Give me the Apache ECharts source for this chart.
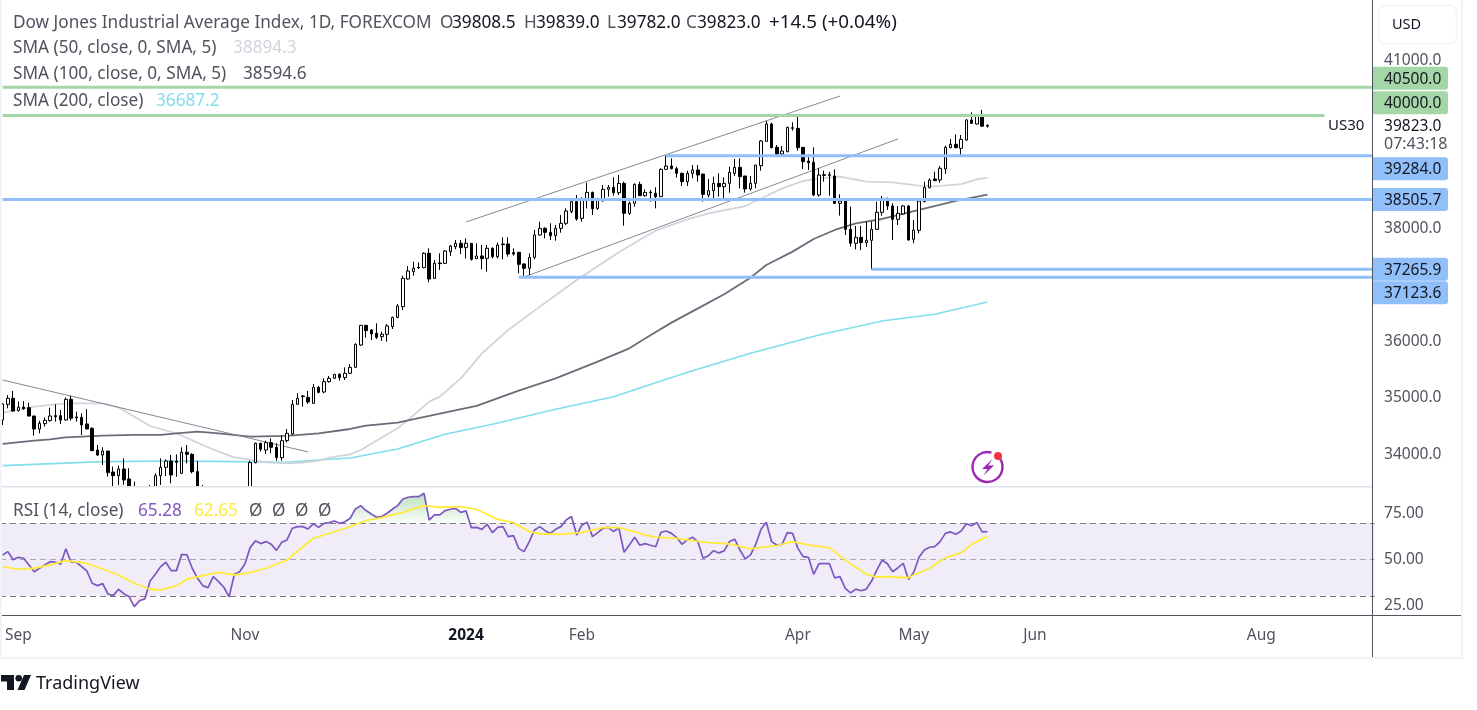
<!DOCTYPE html>
<html><head><meta charset="utf-8">
<style>html,body{margin:0;padding:0;background:#fff;overflow:hidden}#c{width:1477px;height:710px}</style>
<script src="https://cdn.jsdelivr.net/npm/echarts@6/dist/echarts.min.js"></script>
</head><body><div id="c"></div>
<script>
// [open, close, low, high], one row per daily bar
const candles = [
[34590,34874,34501,34886],[34868,34975,34797,35034],[34975,34750,34738,35105],[34756,34815,34738,34916],[34821,34791,34768,34927],
[34809,34661,34649,34898],[34661,34430,34312,34661],[34430,34531,34353,34578],[34525,34584,34472,34637],[34578,34661,34560,34809],
[34667,34649,34560,34868],[34667,34590,34519,34768],[34590,34957,34578,34987],[34957,34620,34578,35022],[34643,34631,34560,34738],
[34637,34501,34324,34708],[34519,34430,34430,34779],[34442,34045,34045,34460],[34057,33968,33951,34146],[33968,34039,33791,34105],
[34039,33655,33584,34039],[33666,33601,33376,33761],[33601,33720,33436,33779],[33720,33524,33436,33909],[33542,33228,33110,33732],
[33406,33376,33199,33495],[33300,33150,33080,33350],[33150,33050,32950,33250],[33180,33350,33120,33436],[33199,33601,33140,33643],
[33601,33749,33436,33909],[33749,33862,33595,33891],[33862,33613,33465,33968],[33856,33838,33584,33980],[33643,34016,33631,34105],
[34016,33980,33820,34146],[33980,33672,33643,33998],[33672,33288,33199,33862],[33300,33150,33050,33436],[33150,33000,32900,33250],
[33000,33200,32950,33300],[33200,33050,32950,33280],[33050,32900,32800,33150],[32900,32500,32350,32950],[32500,32900,32450,32980],
[32900,33050,32850,33120],[33050,33230,33000,33280],[33230,33832,33170,33868],[33832,34176,33820,34187],[34176,34069,34028,34187],
[34057,34187,33986,34223],[34187,34105,33998,34264],[34105,33921,33868,34176],[33921,34223,33868,34324],[34223,34353,34193,34430],
[34341,34868,34324,34945],[34868,34975,34868,35064],[35016,35005,34827,35034],[34993,34910,34874,35105],[34886,35170,34874,35229],
[35170,35081,35064,35194],[35087,35271,35064,35330],[35271,35330,35253,35371],[35330,35401,35318,35407],[35401,35342,35289,35419],
[35342,35419,35300,35525],[35419,35525,35407,35585],[35525,35934,35519,35952],[35922,36271,35910,36277],[36271,36177,36052,36277],
[36188,36117,36011,36206],[36129,36058,36029,36307],[36070,36112,35993,36159],[36112,36260,35981,36295],[36248,36413,36206,36425],
[36413,36615,36396,36650],[36603,37106,36544,37153],[37094,37236,37082,37325],[37224,37284,37153,37402],[37301,37290,37272,37390],
[37296,37550,37284,37568],[37550,37094,37035,37639],[37106,37372,37094,37432],[37378,37367,37254,37550],[37372,37592,37361,37609],
[37580,37680,37503,37698],[37668,37728,37621,37787],[37728,37651,37538,37787],[37651,37728,37461,37816],[37728,37444,37420,37728],
[37455,37503,37450,37728],[37503,37455,37266,37698],[37461,37639,37224,37698],[37639,37491,37461,37657],[37491,37698,37461,37740],
[37716,37704,37444,37834],[37716,37538,37491,37834],[37562,37538,37509,37639],[37568,37355,37195,37568],[37361,37284,37130,37372],
[37284,37479,37165,37550],[37479,37876,37444,37965],[37876,37994,37864,38112],[37994,37923,37816,38012],[37923,37864,37787,38083],
[37864,37994,37775,38053],[37994,38083,37917,38231],[38083,38302,38053,38349],[38290,38468,38261,38515],[38468,38160,38130,38586],
[38172,38509,38112,38545],[38509,38633,38349,38805],[38633,38343,38231,38645],[38349,38497,38320,38539],[38485,38687,38468,38764],
[38687,38722,38556,38764],[38722,38627,38574,38900],[38627,38793,38586,38941],[38793,38261,38041,38823],[38261,38438,38231,38468],
[38438,38775,38379,38793],[38775,38574,38568,38823],[38574,38633,38556,38687],[38639,38627,38468,38675],[38616,38556,38349,38722],
[38556,39042,38551,39060],[39042,39101,39036,39284],[39101,39054,39042,39237],[39054,38971,38894,39089],[38971,38823,38746,38983],
[38823,38971,38746,39018],[38971,39030,38882,39119],[39030,38941,38823,39119],[38959,38598,38468,38959],[38586,38663,38545,38870],
[38663,38793,38533,38912],[38793,38734,38556,38971],[38734,38793,38479,38900],[38793,38989,38627,39089],[38971,39077,38924,39225],
[39077,38912,38704,39237],[38924,38693,38627,38924],[38693,38793,38663,38924],[38793,39119,38704,39119],[39107,39545,39018,39563],
[39539,39847,39533,39900],[39847,39427,39415,39871],[39433,39314,39296,39474],[39314,39367,39279,39456],[39356,39788,39344,39800],
[39782,39770,39729,39877],[39770,39427,39373,40007],[39433,39178,39048,39433],[39190,39160,39030,39308],[39166,38586,38568,39433],
[38586,38941,38556,39060],[38947,38935,38823,39018],[38947,38935,38574,39000],[38924,38438,38426,39042],[38438,38479,38219,38598],
[38479,37976,37876,38479],[37976,37728,37668,38379],[37728,37834,37621,38036],[37834,37740,37609,38036],[37740,37781,37668,38112],
[37781,37976,37266,38112],[37976,38278,37964,38468],[38278,38527,38219,38568],[38527,38391,38320,38539],[38391,38154,37787,38438],
[38154,38261,38053,38391],[38249,38391,38231,38408],[38391,37787,37775,38408],[37799,37964,37728,38142],[37958,38479,37905,38497],
[38468,38722,38456,38823],[38716,38853,38704,38882],[38870,38841,38835,39000],[38853,39060,38805,39101],[39048,39433,38959,39462],
[39427,39486,39415,39581],[39486,39427,39415,39664],[39415,39575,39296,39652],[39563,39918,39551,39936],[39918,39859,39853,40054],
[39847,40007,39841,40025],[40007,39809,39800,40096],[39808.5,39823,39782,39839]];

const sma50Bars = [0,6,12,19,22,25,28,33,38,41,44,47,50,54,57,60,62,66,68,75,77,81,83,87,91,96,102,109,117,122,124,130,134,141,145,148,152,155,159,164,169,174,177,182,185,187];
const sma50Vals = [34720,34827,34886,34886,34815,34649,34483,34353,34146,34028,33927,33880,33838,33820,33832,33868,33921,33980,34057,34442,34590,34916,35004,35330,35774,36188,36603,37076,37568,37846,37952,38154,38260,38390,38568,38704,38835,38882,38911,38823,38811,38751,38740,38781,38864,38894.3];
const sma100Bars = [0,6,9,12,19,25,30,33,37,41,47,54,60,66,69,75,81,90,98,105,113,119,123,127,133,137,142,145,150,154,158,162,167,174,181,187];
const sma100Vals = [34164,34223,34247,34282,34312,34324,34324,34353,34383,34353,34294,34306,34353,34430,34490,34543,34661,34839,35111,35330,35626,35863,36094,36319,36621,36822,37118,37343,37580,37805,37965,38083,38160,38320,38480,38594.6];
const sma200Bars = [0,19,32,44,54,62,66,75,84,93,105,116,126,131,142,155,167,177,187];
const sma200Vals = [33779,33850,33862,33850,33838,33892,33915,34075,34336,34513,34780,35004,35312,35466,35774,36100,36348,36467,36687.2];

const rsiValues = [52.5,54.3,49.9,51.2,50.7,47.0,43.3,45.2,47.0,48.8,48.6,47.4,55.8,48.5,48.5,46.1,43.7,37.0,35.7,36.8,31.1,30.2,33.7,31.3,29.7,24.2,27.5,28.4,38.2,41.9,46.1,48.5,43.9,43.9,52.8,52.5,45.2,39.7,35.7,34.6,40.6,37.9,34.8,29.5,41.9,43.3,47.5,56.5,60.2,58.7,59.8,58.3,55.0,59.4,60.7,67.1,68.0,68.0,66.7,69.5,67.6,69.8,70.2,71.1,69.8,70.7,72.6,77.7,79.5,76.8,74.9,73.1,73.5,75.3,77.5,79.5,83.1,84.1,84.4,84.4,86.3,71.6,74.4,74.4,76.8,77.5,78.0,75.8,76.6,67.4,67.6,66.5,69.3,64.7,67.6,68.0,62.5,63.1,56.1,54.3,59.8,66.2,68.0,65.8,64.3,66.5,68.0,71.6,73.5,63.4,68.9,70.4,62.5,64.7,67.1,67.6,65.3,67.4,53.9,57.9,62.2,57.8,58.7,57.8,57.0,64.9,65.6,64.3,62.0,58.3,60.7,62.2,59.8,50.7,52.1,54.8,53.6,54.7,59.8,61.1,55.2,50.3,52.5,58.3,66.5,70.4,59.8,57.9,58.3,64.7,64.3,56.1,51.6,51.2,41.9,47.7,47.7,47.7,39.9,40.6,34.2,31.7,33.8,32.9,33.8,38.2,44.3,49.7,47.7,43.3,45.5,47.9,39.0,43.0,51.2,55.2,56.7,57.0,59.8,64.3,65.1,63.8,65.6,69.6,68.5,70.2,65.1,65.28];
const rsiMaBars = [0,3,6,9,12,16,19,22,25,28,30,33,35,38,41,44,47,50,54,57,59,63,66,69,72,76,80,83,87,90,94,97,100,102,106,110,114,117,120,122,124,128,131,134,138,142,145,147,150,154,157,160,164,166,168,172,173,176,179,182,184,187];
const rsiMaVals = [46.1,44.6,45.2,47.0,49.4,47.9,44.8,41.5,37.0,33.7,33.3,35.5,39.2,41.2,43.0,41.5,42.8,45.2,49.7,57.0,61.6,65.2,68.0,71.3,72.9,75.8,79.5,78.6,79.0,77.5,72.0,70.2,65.2,64.1,63.8,64.9,67.4,67.4,65.2,63.4,62.2,61.6,60.3,59.2,58.5,55.8,57.0,57.6,59.8,57.4,56.5,49.7,41.9,40.4,40.6,40.0,41.5,45.2,51.0,53.8,58.3,62.65];

const levelValues = [40500,40000,39284,38505.7,37265.9,37123.6];
const levelLabels = ['40500.0','40000.0','39284.0','38505.7','37265.9','37123.6'];
const levelFromBar = [0,0,126,0,165,98];
const levelToBar = [260,251,260,260,260,260];
const levelColors = ['#A5D6A7','#A5D6A7','#90BFF9','#90BFF9','#90BFF9','#90BFF9'];
const levelTagShift = [-9,-12.7,13,0,0,15.5];

const trendBars = [[88,159],[99,170],[0,58]];
const trendVals = [[38107,40344],[37130,39581],[35300,34022]];

const priceTicks = [41000,39823,38000,36000,35000,34000];
const lastPrice = 39823;
const rsiTicks = [75,50,25];
const timeBars = [3,46,88,110,151,173,196,239];
const timeLabels = ['Sep','Nov','2024','Feb','Apr','May','Jun','Aug'];
const barCount = 261;

const FONT = '"Noto Sans", sans-serif';
const GREY = '#50535E', LIGHT = '#D1D4DC', TEAL = '#80DEEA', PURPLE = '#7E57C2', YELLOW = '#FFEB3B';
const barSlots = Array.from({length: barCount}, (_, i) => String(i));
const pairs = (xs, ys) => xs.map((x, i) => [x, ys[i]]);

const lineBase = {type: 'line', symbol: 'none', showSymbol: false, silent: true, animation: false};
const smaBase = {...lineBase, xAxisIndex: 0, yAxisIndex: 0, z: 2};
const series = [
  {...smaBase, name: 'SMA 200', data: pairs(sma200Bars, sma200Vals), lineStyle: {color: TEAL, width: 1.6}},
  {...smaBase, name: 'SMA 50', data: pairs(sma50Bars, sma50Vals), lineStyle: {color: LIGHT, width: 1.8}},
  {...smaBase, name: 'SMA 100', data: pairs(sma100Bars, sma100Vals), lineStyle: {color: '#6A6D78', width: 1.8}},
  ...trendBars.map((b, i) => ({...lineBase, name: 'trend' + i, xAxisIndex: 0, yAxisIndex: 0, data: pairs(b, trendVals[i]), lineStyle: {color: '#868993', width: 1}, z: 3})),
  {type: 'candlestick', name: 'US30', xAxisIndex: 0, yAxisIndex: 0, data: candles, barWidth: 3, silent: true, animation: false, z: 4, clip: true,
   itemStyle: {color: '#fff', color0: '#000', borderColor: '#000', borderColor0: '#000', borderColorDoji: '#000', borderWidth: 1}},
  ...levelValues.map((v, i) => ({...lineBase, name: 'level' + i, xAxisIndex: 0, yAxisIndex: 0, data: [[levelFromBar[i], v], [levelToBar[i], v]], lineStyle: {color: levelColors[i], width: 3, cap: 'butt'}, z: 5})),
  {...lineBase, name: 'RSI above', xAxisIndex: 1, yAxisIndex: 1, data: rsiValues.map(v => Math.max(v, 70)), lineStyle: {opacity: 0},
   areaStyle: {origin: 70, color: {type: 'linear', x: 0, y: 0, x2: 0, y2: 1, colorStops: [{offset: 0, color: 'rgba(76,175,80,0.55)'}, {offset: 1, color: 'rgba(76,175,80,0.04)'}]}}, z: 11},
  {...lineBase, name: 'RSI below', xAxisIndex: 1, yAxisIndex: 1, data: rsiValues.map(v => Math.min(v, 30)), lineStyle: {opacity: 0},
   areaStyle: {origin: 30, color: 'rgba(255,82,82,0.12)'}, z: 11},
  {...lineBase, name: 'RSI MA', xAxisIndex: 1, yAxisIndex: 1, data: pairs(rsiMaBars, rsiMaVals), lineStyle: {color: YELLOW, width: 1.8}, z: 13},
  {...lineBase, name: 'RSI', xAxisIndex: 1, yAxisIndex: 1, data: rsiValues, lineStyle: {color: PURPLE, width: 1.7}, z: 12,
   markArea: {silent: true, z: 10, itemStyle: {color: 'rgba(126,87,194,0.115)'}, data: [[{yAxis: 30}, {yAxis: 70}]]},
   markLine: {silent: true, z: 10, symbol: 'none', animation: false, label: {show: false}, data: [
     {yAxis: 70, lineStyle: {color: '#787B86', type: [6, 4], width: 1}},
     {yAxis: 50, lineStyle: {color: 'rgba(120,123,134,0.6)', type: [6, 4], width: 1}},
     {yAxis: 30, lineStyle: {color: '#787B86', type: [6, 4], width: 1}}]}}
];

const option = {
  animation: false, backgroundColor: '#fff', tooltip: {show: false},
  textStyle: {fontFamily: FONT},
  grid: [
    {left: -1.44, top: 0, width: 1376, height: 486, containLabel: false},
    {left: -1.44, top: 487, width: 1376, height: 128, containLabel: false}
  ],
  xAxis: [
    {type: 'category', gridIndex: 0, data: barSlots, boundaryGap: true, axisLine: {show: false}, axisTick: {show: false}, axisLabel: {show: false}, splitLine: {show: false}},
    {type: 'category', gridIndex: 1, data: barSlots, boundaryGap: true, axisLine: {show: false}, axisTick: {show: false}, splitLine: {show: false},
     axisLabel: {show: true, margin: 12, fontFamily: FONT, fontSize: 15.5, color: GREY, lineHeight: 18, verticalAlign: 'top',
       interval: i => timeBars.includes(i),
       formatter: v => { const t = timeLabels[timeBars.indexOf(+v)]; return t === '2024' ? '{b|' + t + '}' : t; },
       rich: {b: {fontFamily: FONT, fontSize: 15.5, fontWeight: 'bold', color: '#131722', lineHeight: 18}}}}
  ],
  yAxis: [
    {type: 'value', gridIndex: 0, position: 'right', min: 33417.4, max: 42049.7, scale: true, axisLine: {show: false}, axisTick: {show: false}, splitLine: {show: false},
     axisLabel: {show: true, margin: 9.5, padding: [2, 0, 0, 0], customValues: priceTicks, fontFamily: FONT, fontSize: 15.5, color: GREY,
       formatter: v => v === lastPrice ? '{k|' + v.toFixed(1) + '}' : v.toFixed(1),
       rich: {k: {fontFamily: FONT, fontSize: 15.5, color: '#131722'}}}},
    {type: 'value', gridIndex: 1, position: 'right', min: 19.6, max: 89.7, scale: true, axisLine: {show: false}, axisTick: {show: false}, splitLine: {show: false},
     axisLabel: {show: true, margin: 9.5, padding: [2, 0, 0, 0], customValues: rsiTicks, fontFamily: FONT, fontSize: 15.5, color: GREY, formatter: v => v.toFixed(2)}}
  ],
  series
};

const chart = echarts.init(document.getElementById('c'), null, {renderer: 'canvas', width: 1477, height: 710});
chart.setOption(option);

const txt = (x, y, text, fill, extra) => ({type: 'text', silent: true, z: 50, x, y: y + 1, style: Object.assign({text, fill, font: '17.2px ' + FONT, textVerticalAlign: 'middle', textAlign: 'left'}, extra || {})});
const rect = (x, y, w, h, fill, z) => ({type: 'rect', silent: true, z: z || 40, shape: {x, y, width: w, height: h}, style: {fill}});
const g = [];
// lower edge of the price pane: candles stop here
g.push(rect(2, 487, 1370, 128, '#fff', 8));
// frame
g.push(rect(0, 657, 1463, 2, '#F0F3FA'), rect(0, 0, 2, 659, '#F0F3FA'), rect(1461, 0, 2, 659, '#F0F3FA'));
g.push(rect(2, 486, 1371, 1.5, '#E0E3EB'), rect(2, 615, 1459, 1, '#50535E'), rect(1372, 0, 1, 657, '#50535E'));
// legend
const legendRows = [
  {y: 22, items: [[13, 'Dow Jones Industrial Average Index, 1D, FOREXCOM', GREY], [440, 'O', GREY], [452, '39808.5', '#131722'], [524, 'H', GREY], [536, '39839.0', '#131722'], [607, 'L', GREY], [617, '39782.0', '#131722'], [686, 'C', GREY], [697, '39823.0', '#131722']]},
  {y: 47, items: [[13, 'SMA (50, close, 0, SMA, 5)', GREY], [233, '38894.3', LIGHT]]},
  {y: 73, items: [[13, 'SMA (100, close, 0, SMA, 5)', GREY], [243, '38594.6', GREY]]},
  {y: 100, items: [[13, 'SMA (200, close)', GREY], [156, '36687.2', TEAL]]},
  {y: 510, items: [[13, 'RSI (14, close)', GREY], [138, '65.28', PURPLE], [194, '62.65', YELLOW], [249, 'Ø', GREY], [272, 'Ø', GREY], [295, 'Ø', GREY], [318, 'Ø', GREY]]}
];
legendRows.forEach(r => r.items.forEach(it => g.push(txt(it[0], r.y, it[1], it[2]))));
g.push(txt(769, 22, '+14.5 (+0.04%)', '#131722', {font: '18.8px ' + FONT}));
// currency button
g.push({type: 'rect', silent: true, z: 45, shape: {x: 1378.5, y: 5.5, width: 78, height: 38, r: 6}, style: {fill: '#fff', stroke: '#F0F3FA', lineWidth: 1.5}});
g.push(txt(1392, 24, 'USD', '#131722', {font: '14.5px ' + FONT}));
// price tags
levelValues.forEach((v, i) => {
  const cy = chart.convertToPixel({yAxisIndex: 0}, v) + levelTagShift[i];
  g.push({type: 'rect', silent: true, z: 45, shape: {x: 1373, y: cy - 11.5, width: 75, height: 23, r: [0, 3, 3, 0]}, style: {fill: levelColors[i]}});
  g.push(txt(1384, cy, levelLabels[i], '#131722', {font: '15.5px ' + FONT}));
});
g.push(txt(1328, 125, 'US30', '#131722', {font: '15px ' + FONT}));
g.push(txt(1384, 143.5, '07:43:18', GREY, {font: '16px ' + FONT}));
// event icon
g.push({type: 'arc', silent: true, z: 45, shape: {cx: 987.5, cy: 467, r: 15, startAngle: -0.6, endAngle: -1.3, clockwise: true}, style: {fill: 'none', stroke: '#9C27B0', lineWidth: 2.4}});
g.push({type: 'polygon', silent: true, z: 45, shape: {points: [[992.5,459],[982,469],[987.5,469],[983.5,475.5],[994,465.5],[988.3,465.5]]}, style: {fill: '#9C27B0'}});
g.push({type: 'circle', silent: true, z: 46, shape: {cx: 998, cy: 456, r: 4}, style: {fill: '#F23645'}});
// brand
g.push({type: 'polygon', silent: true, z: 45, shape: {points: [[1,675],[14,675],[14,690],[7,690],[7,681.5],[1,681.5]]}, style: {fill: '#131722'}});
g.push({type: 'circle', silent: true, z: 45, shape: {cx: 18.7, cy: 678.3, r: 3.3}, style: {fill: '#131722'}});
g.push({type: 'polygon', silent: true, z: 45, shape: {points: [[24,675],[31,675],[24.5,690],[17.5,690]]}, style: {fill: '#131722'}});
g.push(txt(36, 683, 'TradingView', '#131722', {font: '18px ' + FONT}));
chart.setOption({graphic: {elements: g}});
</script></body></html>
